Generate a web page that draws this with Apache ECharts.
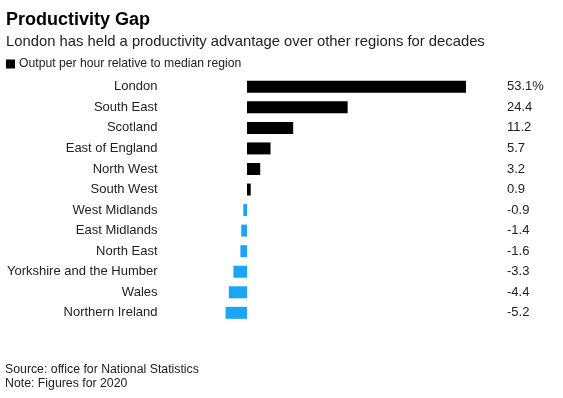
<!DOCTYPE html>
<html>
<head>
<meta charset="utf-8">
<script src="https://cdn.jsdelivr.net/npm/echarts@6/dist/echarts.min.js"></script>
<style>
  html, body { margin: 0; padding: 0; background: #fff; }
  #chart { width: 563px; height: 398px; }
</style>
</head>
<body>
<div id="chart"></div>
<script>
// regions, top to bottom
const regions = ['London', 'South East', 'Scotland', 'East of England', 'North West', 'South West',
  'West Midlands', 'East Midlands', 'North East', 'Yorkshire and the Humber', 'Wales', 'Northern Ireland']
// output per hour relative to median region, %
const gap = [53.1, 24.4, 11.2, 5.7, 3.2, 0.9, -0.9, -1.4, -1.6, -3.3, -4.4, -5.2]
// value column on the right
const valueLabels = gap.map((v, i) => i === 0 ? v.toFixed(1) + '%' : v.toFixed(1))

const font = 'Liberation Sans, Arial, Helvetica, sans-serif'
const chart = echarts.init(document.getElementById('chart'), null, {renderer: 'canvas'})

chart.setOption({
  animation: false,
  backgroundColor: '#fff',
  title: [
    {
      text: 'Productivity Gap',
      left: 1, top: 6,
      textStyle: {fontFamily: font, fontSize: 18, fontWeight: 'bold', color: '#000'}
    },
    {
      text: 'London has held a productivity advantage over other regions for decades',
      left: 1, top: 29,
      textStyle: {fontFamily: font, fontSize: 14.8, fontWeight: 'normal', color: '#222'}
    },
    {
      text: 'Source: office for National Statistics\nNote: Figures for 2020',
      left: 0, top: 358,
      textStyle: {fontFamily: font, fontSize: 12.3, fontWeight: 'normal', color: '#222', lineHeight: 14}
    }
  ],
  legend: {
    left: 1, top: 53,
    icon: 'rect',
    itemWidth: 9, itemHeight: 9,
    textStyle: {fontFamily: font, fontSize: 12.2, color: '#222', padding: [0, 0, 0, -1]},
    data: [{name: 'Output per hour relative to median region', itemStyle: {color: '#000'}}]
  },
  grid: {left: 164.5, right: 68.5, top: 76.5, height: 246.6, containLabel: false},
  xAxis: {
    type: 'value',
    min: -20, max: 60,
    show: false
  },
  yAxis: [
    {
      type: 'category',
      data: regions,
      inverse: true,
      axisLine: {show: false},
      axisTick: {show: false},
      axisLabel: {margin: 7, fontFamily: font, fontSize: 13, color: '#222'}
    },
    {
      type: 'category',
      data: valueLabels,
      inverse: true,
      position: 'right',
      axisLine: {show: false},
      axisTick: {show: false},
      axisLabel: {margin: 12.5, align: 'left', fontFamily: font, fontSize: 13, color: '#222'}
    }
  ],
  series: [{
    name: 'Output per hour relative to median region',
    type: 'bar',
    data: gap,
    barWidth: 12,
    itemStyle: {
      color: p => p.value >= 0 ? '#000' : '#1ba5f7'
    }
  }]
})
</script>
</body>
</html>
